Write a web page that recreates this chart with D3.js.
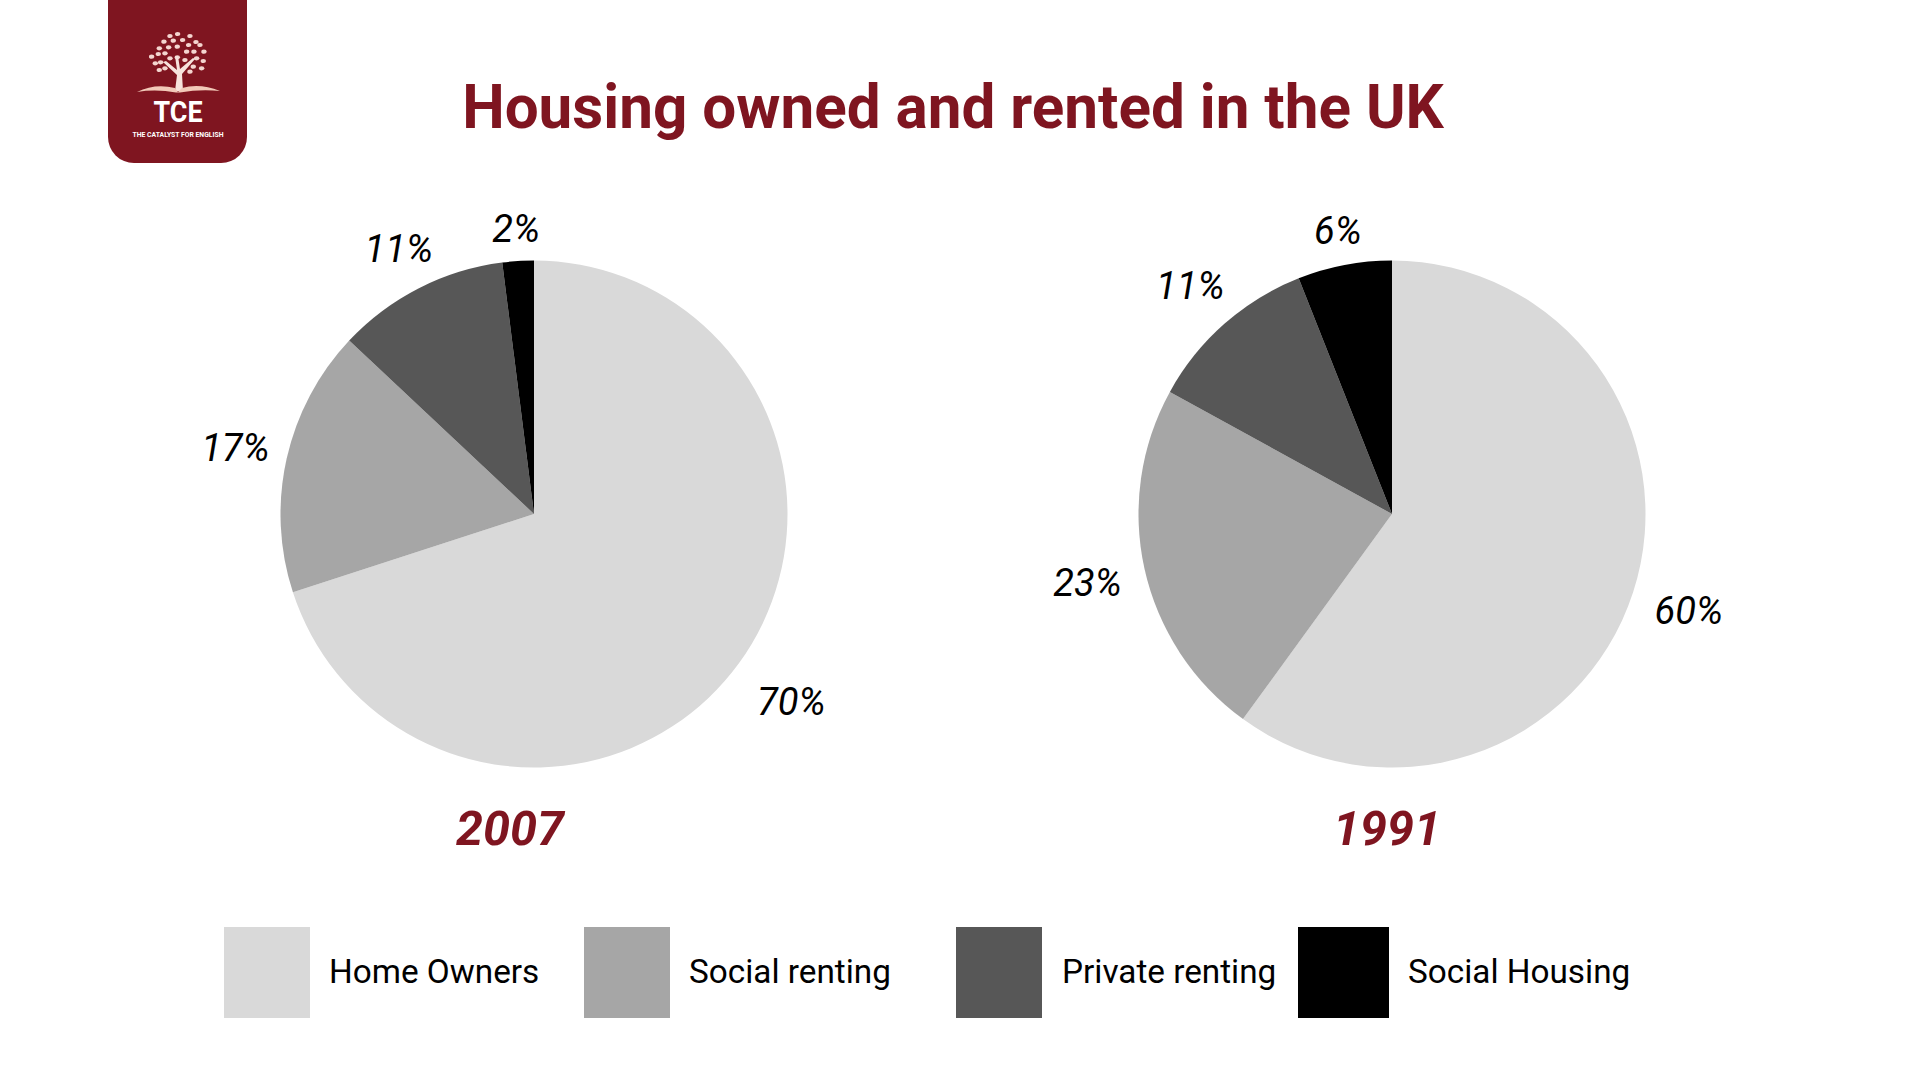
<!DOCTYPE html>
<html>
<head>
<meta charset="utf-8">
<script src="https://cdn.jsdelivr.net/npm/d3@7"></script>
<style>
  html, body { margin: 0; padding: 0; background: #fff; }
  svg { display: block; font-family: Roboto, sans-serif; }
</style>
</head>
<body>
<div id="vis"></div>
<script>
// data
var categories = ['Home Owners', 'Social renting', 'Private renting', 'Social Housing'];
var values2007 = [70, 17, 11, 2];
var values1991 = [60, 23, 11, 6];
var years = ['2007', '1991'];
var colors = ['#d9d9d9', '#a6a6a6', '#575757', '#000000'];
var titleText = 'Housing owned and rented in the UK';

// layout
var width = 1920;
var height = 1080;
var red = '#7f1520';
var radius = 253.5;
var pieY = 514;
var pieX = [534, 1392];
var yearX = [510, 1387];
var labelRadius = [[318, 306, 298, 286], [312, 312, 305, 288.5]];
var legendX = [224, 584, 956, 1298];
var legendW = [86, 86, 86, 91];
var legendTextX = [329, 689, 1062, 1408];

var svg = d3.select('#vis').append('svg')
    .attr('width', width)
    .attr('height', height)
    .attr('viewBox', '0 0 ' + width + ' ' + height);

svg.append('text')
    .attr('x', 953)
    .attr('y', 128)
    .attr('text-anchor', 'middle')
    .attr('font-size', 60.2)
    .attr('font-weight', 700)
    .attr('fill', red)
    .text(titleText);

// pies
var pie = d3.pie().sort(null).value(function (d) { return d; });
var arc = d3.arc().innerRadius(0).outerRadius(radius);

[values2007, values1991].forEach(function (values, i) {
  var g = svg.append('g').attr('transform', 'translate(' + pieX[i] + ',' + pieY + ')');
  var arcs = pie(values);

  g.selectAll('path')
      .data(arcs)
      .enter().append('path')
      .attr('d', arc)
      .attr('fill', function (d, j) { return colors[j]; });

  g.selectAll('text')
      .data(arcs)
      .enter().append('text')
      .attr('transform', function (d, j) {
        var a = (d.startAngle + d.endAngle) / 2;
        var r = labelRadius[i][j];
        return 'translate(' + (Math.sin(a) * r) + ',' + (-Math.cos(a) * r) + ')';
      })
      .attr('text-anchor', 'middle')
      .attr('dy', '0.36em')
      .attr('font-size', 38)
      .attr('font-style', 'italic')
      .attr('fill', '#000')
      .text(function (d) { return d.value + '%'; });

  svg.append('text')
      .attr('x', yearX[i])
      .attr('y', 845)
      .attr('text-anchor', 'middle')
      .attr('font-size', 48.5)
      .attr('font-weight', 700)
      .attr('font-style', 'italic')
      .attr('fill', red)
      .text(years[i]);
});

// legend
var legend = svg.selectAll('.legend')
    .data(categories)
    .enter().append('g')
    .attr('class', 'legend');

legend.append('rect')
    .attr('x', function (d, i) { return legendX[i]; })
    .attr('y', 927)
    .attr('width', function (d, i) { return legendW[i]; })
    .attr('height', 91)
    .attr('fill', function (d, i) { return colors[i]; });

legend.append('text')
    .attr('x', function (d, i) { return legendTextX[i]; })
    .attr('y', 983)
    .attr('font-size', 33.3)
    .attr('fill', '#000')
    .text(function (d) { return d; });

// logo
var logo = svg.append('g');
logo.append('path')
    .attr('d', 'M108,0H247V137a26,26 0 0 1 -26,26H134a26,26 0 0 1 -26,-26Z')
    .attr('fill', red);

var leaves = [[263,102],[240,108],[300,108],[222,125],[250,122],[278,120],[318,126],[208,145],[236,142],[262,140],[296,135],[330,135],
  [205,162],[225,160],[290,155],[312,155],[342,155],[185,170],[212,187],[240,175],[320,175],[340,183],[196,190],[225,205],[310,200],[335,205],[262,172],[285,180],[208,210],[300,215]];
logo.append('g')
    .attr('fill', '#f4d5cf')
    .selectAll('ellipse')
    .data(leaves)
    .enter().append('ellipse')
    .attr('cx', function (d) { return 90 + d[0] / 3; })
    .attr('cy', function (d) { return d[1] / 3; })
    .attr('rx', 2.7)
    .attr('ry', 2.1);

logo.append('path')
    .attr('d', 'M175,91L177,75L163,62L166,61L177,70L175,56L178,56L180,69L193,58L195,59L182,74L183,91Z')
    .attr('fill', '#f7e3dc');
logo.append('path')
    .attr('d', 'M137,92Q155,83 175,88L178,92L182,88Q200,83 220,91Q200,89 180,92.5H176Q156,89 137,92Z')
    .attr('fill', '#f2c9b8');

logo.append('text')
    .attr('x', 178)
    .attr('y', 122)
    .attr('text-anchor', 'middle')
    .attr('font-size', 30)
    .attr('font-weight', 700)
    .attr('textLength', 49)
    .attr('lengthAdjust', 'spacingAndGlyphs')
    .attr('fill', '#fff')
    .text('TCE');
logo.append('text')
    .attr('x', 178)
    .attr('y', 137)
    .attr('text-anchor', 'middle')
    .attr('font-size', 7.5)
    .attr('font-weight', 700)
    .attr('textLength', 91)
    .attr('lengthAdjust', 'spacingAndGlyphs')
    .attr('fill', '#fff')
    .text('THE CATALYST FOR ENGLISH');
</script>
</body>
</html>
